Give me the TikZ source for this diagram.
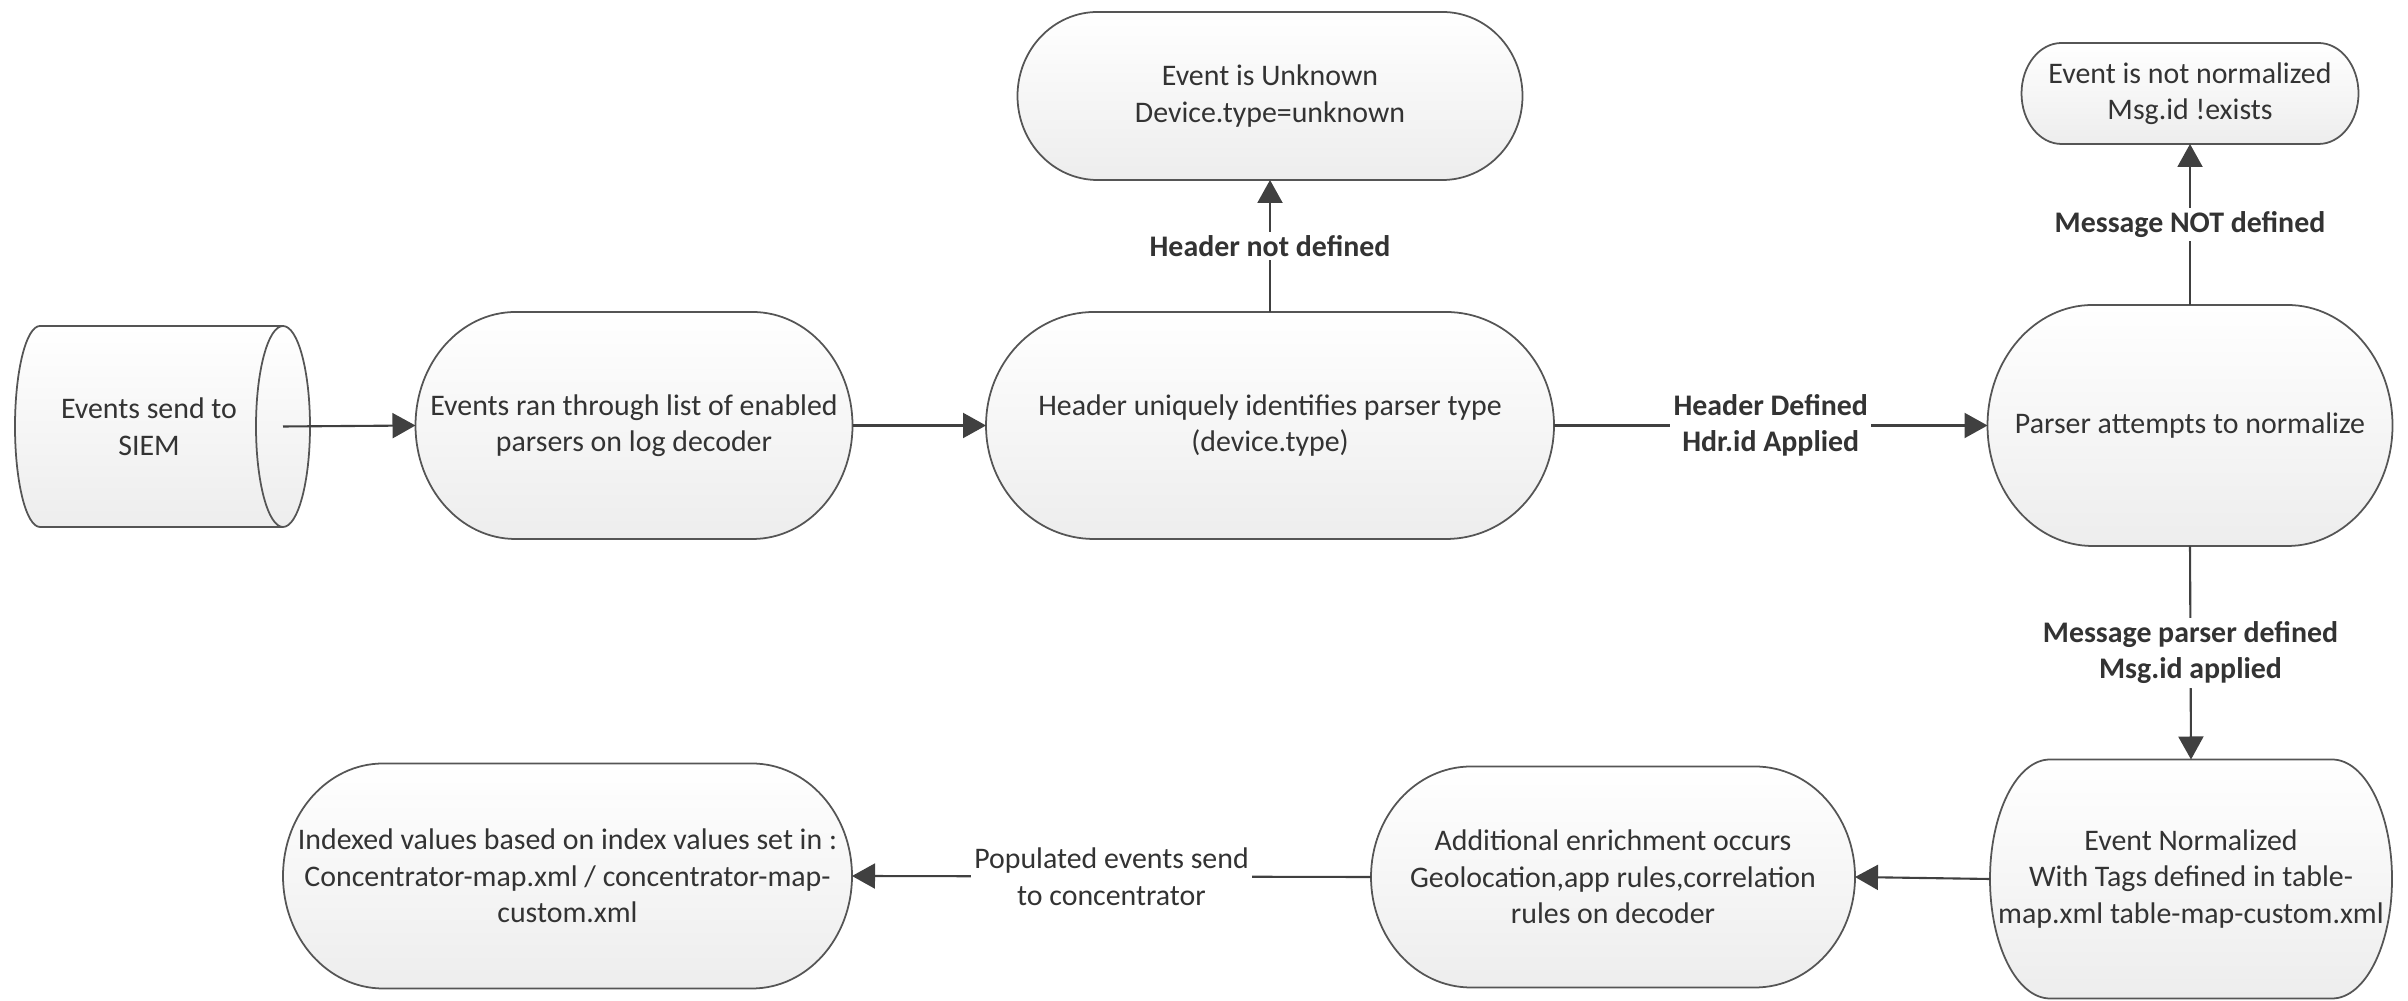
\documentclass[tikz,border=0pt]{standalone}
\usepackage{fontspec}
\setmainfont{Carlito}
\usepackage{xcolor}
\usepackage{tikz}
\usetikzlibrary{calc,arrows.meta}
\definecolor{ink}{HTML}{333333}
\definecolor{inkii}{HTML}{404040}
\definecolor{rim}{HTML}{555555}
\definecolor{shade}{HTML}{EDEDED}
\tikzset{
  outline/.style = {draw=rim, line width=0.5pt, top color=white, bottom color=shade},
  rimline/.style = {draw=rim, line width=0.5pt},
  term/.style    = {font=\fontsize{8.5}{10.4}\selectfont\color{ink}, align=center, inner sep=0pt, outer sep=0pt},
  cut/.style     = {font=\fontsize{8.5}{10.4}\selectfont\bfseries\color{ink}, align=center, fill=white, inner sep=1pt},
  cutlt/.style   = {font=\fontsize{8.5}{10.4}\selectfont\color{ink}, align=center, fill=white, inner sep=1pt},
  flow/.style    = {-{Triangle[length=2.3mm,width=2.5mm]}, draw=inkii, line width=0.6pt},
}
\begin{document}
\begin{tikzpicture}[x=0.1mm,y=0.1mm]
\path[use as bounding box] (0,0) rectangle (2408,1001);

% ---- source: a drum lying on its side -----------------------------------
\draw[outline] (40,675) -- (283,675)
  arc[start angle=90, end angle=-90, x radius=27, y radius=100.5] -- (40,474)
  arc[start angle=270, end angle=90, x radius=25, y radius=100.5] -- cycle;
\draw[rimline] (283,675) arc[start angle=90, end angle=270, x radius=27, y radius=100.5];
\node[term] (siem) at (149,574.5) {Events send to\\SIEM};
\coordinate (siemout) at (283,574.5);

% ---- the process steps (terminator boxes) -------------------------------
\foreach \nm/\cx/\cy/\w/\h/\rx/\txt in {%
  parse/634/575.5/437/227/100/{Events ran through list of enabled\\parsers on log decoder},
  hdr/1270/575.5/568/227/108/{Header uniquely identifies parser type\\(device.type)},
  unknown/1270/905/505/168/80/{Event is Unknown\\Device.type=unknown},
  parser/2190/575.5/405/241/105/{Parser attempts to normalize},
  notnorm/2190/907.5/337/101/40/{Event is not normalized\\Msg.id !exists},
  normd/2191/122/402/239/60/{Event Normalized\\With Tags defined in table-\\map.xml table-map-custom.xml},
  enrich/1613/124/484/221/100/{Additional enrichment occurs\\Geolocation,app rules,correlation\\rules on decoder},
  indexed/567.5/125/569/225/100/{Indexed values based on index values set in :\\Concentrator-map.xml / concentrator-map-\\custom.xml}} {
  \draw[outline] (\cx-\w/2+\rx,\cy+\h/2) -- (\cx+\w/2-\rx,\cy+\h/2)
    arc[start angle=90, end angle=-90, x radius=\rx, y radius=\h/2]
    -- (\cx-\w/2+\rx,\cy-\h/2)
    arc[start angle=270, end angle=90, x radius=\rx, y radius=\h/2] -- cycle;
  \node[term, minimum width=\w*0.1mm, minimum height=\h*0.1mm] (\nm) at (\cx,\cy) {\txt};
}

% ---- flow ---------------------------------------------------------------
\draw[flow] (siemout) -- (parse.west);
\draw[flow] (parse.east) -- (hdr.west);
\draw[flow] (hdr.north) -- node[cut] {Header not defined} (unknown.south);
\draw[flow] (hdr.east) -- node[cut] {Header Defined\\Hdr.id Applied} (parser.west);
\draw[flow] (parser.north) -- node[cut] {Message NOT defined} (notnorm.south);
\draw[flow] (parser.south) -- node[cut] {Message parser defined\\Msg.id applied} (normd.north);
\draw[flow] (normd.west) -- (enrich.east);
\draw[flow] (enrich.west) -- node[cutlt] {Populated events send\\to concentrator} (indexed.east);

\end{tikzpicture}
\end{document}
